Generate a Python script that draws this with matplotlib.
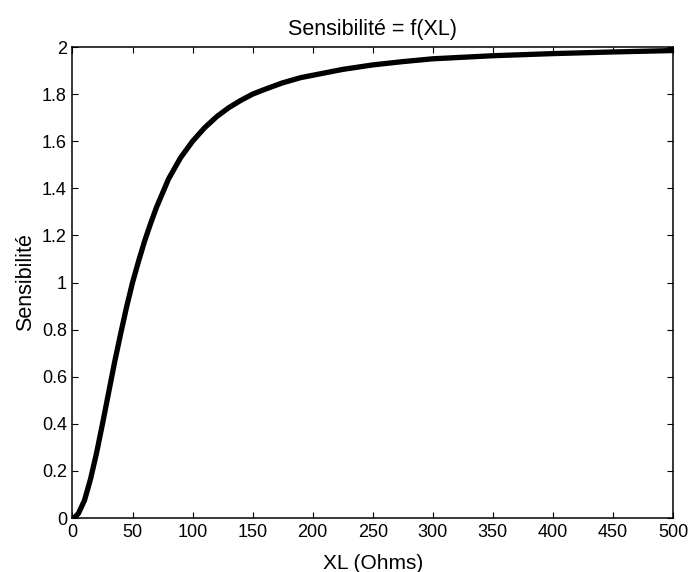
import matplotlib.pyplot as plt

plt.rcParams['font.family'] = ['Liberation Sans', 'DejaVu Sans']

# XL values (Ohms) and sensitivity
xl = [0, 2, 5, 10, 15, 20, 25, 30, 35, 40, 45, 50, 55, 60, 65, 70, 75, 80,
      85, 90, 95, 100, 110, 120, 130, 140, 150, 160, 175, 190, 200, 225,
      250, 275, 300, 350, 400, 450, 500]
sens = [0, 0.003, 0.02, 0.075, 0.165, 0.275, 0.40, 0.53, 0.66, 0.78, 0.895,
        1.0, 1.09, 1.175, 1.25, 1.32, 1.38, 1.44, 1.485, 1.53, 1.565, 1.60,
        1.657, 1.704, 1.742, 1.773, 1.80, 1.82, 1.848, 1.87, 1.88, 1.905,
        1.924, 1.938, 1.95, 1.963, 1.972, 1.979, 1.985]

xticks = list(range(0, 501, 50))
yticks = [0, 0.2, 0.4, 0.6, 0.8, 1, 1.2, 1.4, 1.6, 1.8, 2]
ytick_labels = ["0", "0.2", "0.4", "0.6", "0.8", "1", "1.2", "1.4", "1.6", "1.8", "2"]

fig = plt.figure(figsize=(6.89, 5.72), dpi=100)
ax = fig.add_axes([0.1052, 0.0944, 0.8716, 0.8234])

ax.plot(xl, sens, color="black", linewidth=3.8, solid_capstyle="butt")

ax.set_xlim(0, 500)
ax.set_ylim(0, 2)
ax.set_xticks(xticks)
ax.set_yticks(yticks)
ax.set_yticklabels(ytick_labels)
ax.tick_params(direction="in", top=True, right=True, length=4, width=0.8,
               labelsize=13, pad=4)
for sp in ax.spines.values():
    sp.set_linewidth(1.1)

ax.set_title("Sensibilité = f(XL)", fontsize=15.5, pad=9)
ax.set_xlabel("XL (Ohms)", fontsize=15)
ax.set_ylabel("Sensibilité", fontsize=15.5)
ax.xaxis.set_label_coords(0.5, -0.076)
ax.yaxis.set_label_coords(-0.061, 0.5)

fig.savefig("out.png", dpi=100)
